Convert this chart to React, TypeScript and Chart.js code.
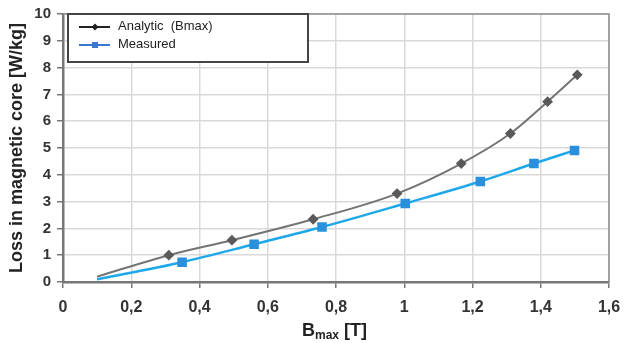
import React, { useEffect, useRef } from "react";
import { Chart, registerables } from "chart.js";

Chart.register(...registerables);

const analyticB = [0.1, 0.31, 0.495, 0.733, 0.979, 1.167, 1.311, 1.42, 1.507];
const analyticLoss = [0.2, 1.0, 1.56, 2.34, 3.3, 4.42, 5.54, 6.73, 7.73];
const measuredB = [0.1, 0.349, 0.56, 0.759, 1.003, 1.223, 1.38, 1.499];
const measuredLoss = [0.1, 0.74, 1.41, 2.05, 2.93, 3.75, 4.42, 4.91];
const seriesNames = ["Analytic  (Bmax)", "Measured"];
const yTitle = "Loss in magnetic core [W/kg]";
const xTitleMain = "B";
const xTitleSub = "max";
const xTitleRest = " [T]";

const FONT = "'Liberation Sans', Arial, sans-serif";

const fmt = (v: number) => String(Math.round(v * 10) / 10).replace(".", ",");

const decorPlugin = {
  id: "decor",
  afterDraw(chart: any) {
    const ctx = chart.ctx;
    const ca = chart.chartArea;
    ctx.save();
    // plot border top & right
    ctx.strokeStyle = "#8f8f8f";
    ctx.lineWidth = 1.5;
    ctx.beginPath();
    ctx.moveTo(ca.left, ca.top);
    ctx.lineTo(ca.right, ca.top);
    ctx.lineTo(ca.right, ca.bottom);
    ctx.stroke();

    // legend box
    const lx = ca.left + 5;
    const ly = ca.top;
    const lw = 240;
    const lh = 48;
    ctx.fillStyle = "#ffffff";
    ctx.fillRect(lx, ly, lw, lh);
    ctx.strokeStyle = "#444444";
    ctx.lineWidth = 2;
    ctx.strokeRect(lx, ly, lw, lh);
    const ds = chart.data.datasets;
    const legendColors = ["#222222", "#3a78d0"];
    ds.forEach((d: any, i: number) => {
      const y = ly + 13 + i * 18;
      ctx.strokeStyle = legendColors[i];
      ctx.lineWidth = 2;
      ctx.beginPath();
      ctx.moveTo(lx + 11, y);
      ctx.lineTo(lx + 42, y);
      ctx.stroke();
      ctx.fillStyle = legendColors[i];
      const cx = lx + 27;
      if (i === 0) {
        ctx.beginPath();
        ctx.moveTo(cx, y - 3.5);
        ctx.lineTo(cx + 3.5, y);
        ctx.lineTo(cx, y + 3.5);
        ctx.lineTo(cx - 3.5, y);
        ctx.closePath();
        ctx.fill();
      } else {
        ctx.fillRect(cx - 3, y - 3, 6, 6);
      }
      ctx.fillStyle = "#222222";
      ctx.font = `13px ${FONT}`;
      ctx.textBaseline = "middle";
      ctx.textAlign = "left";
      ctx.fillText(d.label, lx + 50, y - 1);
    });

    // x title with subscript
    ctx.fillStyle = "#222222";
    ctx.textBaseline = "alphabetic";
    ctx.textAlign = "left";
    let x = 302;
    const by = 336;
    ctx.font = `bold 18px ${FONT}`;
    ctx.fillText(xTitleMain, x, by);
    x += ctx.measureText(xTitleMain).width;
    ctx.font = `bold 12px ${FONT}`;
    ctx.fillText(xTitleSub, x, by + 3);
    x += ctx.measureText(xTitleSub).width;
    ctx.font = `bold 18px ${FONT}`;
    ctx.fillText(xTitleRest, x, by);
    ctx.restore();
  },
};

export default function App() {
  const ref = useRef<HTMLCanvasElement>(null);
  useEffect(() => {
    if (!ref.current) return;
    const chart = new Chart(ref.current, {
      type: "scatter",
      data: {
        datasets: [
          {
            label: seriesNames[0],
            data: analyticB.map((b, i) => ({ x: b, y: analyticLoss[i] })),
            showLine: true,
            borderColor: "#747474",
            borderWidth: 2,
            backgroundColor: "#5a5a5a",
            pointBackgroundColor: "#5a5a5a",
            pointBorderColor: "#5a5a5a",
            pointStyle: "rectRot",
            pointRadius: analyticB.map((_, i) => (i === 0 ? 0 : 4)),
            cubicInterpolationMode: "monotone",
          },
          {
            label: seriesNames[1],
            data: measuredB.map((b, i) => ({ x: b, y: measuredLoss[i] })),
            showLine: true,
            borderColor: "#1ea8ea",
            borderWidth: 2.5,
            backgroundColor: "#2a90dc",
            pointBackgroundColor: "#2a90dc",
            pointBorderColor: "#2a90dc",
            pointStyle: "rect",
            pointRadius: measuredB.map((_, i) => (i === 0 ? 0 : 5)),
            cubicInterpolationMode: "monotone",
          },
        ],
      },
      options: {
        animation: false,
        responsive: false,
        layout: { padding: { left: 0, right: 16, top: 14, bottom: 0 } },
        plugins: {
          legend: { display: false },
          tooltip: { enabled: false },
        },
        scales: {
          x: {
            type: "linear",
            min: 0,
            max: 1.6,
            ticks: {
              stepSize: 0.2,
              callback: (v: any) => fmt(Number(v)),
              color: "#333333",
              font: { family: FONT, size: 16, weight: "bold" },
              padding: 10,
              maxRotation: 0,
            },
            grid: {
              color: "#d9d9d9",
              lineWidth: 1.5,
              tickLength: 6,
              tickColor: "#777777",
            },
            border: { color: "#777777", width: 2.5 },
            afterFit: (s: any) => {
              s.height = 61;
              s.paddingRight = 0;
            },
          },
          y: {
            min: 0,
            max: 10,
            ticks: {
              stepSize: 1,
              callback: (v: any) => fmt(Number(v)),
              color: "#333333",
              font: { family: FONT, size: 15, weight: "bold" },
              padding: 6,
            },
            grid: {
              color: "#d9d9d9",
              lineWidth: 1.5,
              tickLength: 6,
              tickColor: "#777777",
            },
            border: { color: "#777777", width: 2.5 },
            title: {
              display: true,
              text: yTitle,
              color: "#222222",
              font: { family: FONT, size: 18, weight: "bold" },
              padding: { top: 6, bottom: 0 },
            },
            afterFit: (s: any) => {
              s.width = 63;
              s.paddingTop = 0;
            },
          },
        },
      },
      plugins: [decorPlugin],
    } as any);
    return () => chart.destroy();
  }, []);
  return (
    <div style={{ position: "absolute", left: 0, top: 0, width: 625, height: 343, background: "#fff" }}>
      <canvas ref={ref} width={625} height={343} style={{ width: 625, height: 343 }} />
    </div>
  );
}
